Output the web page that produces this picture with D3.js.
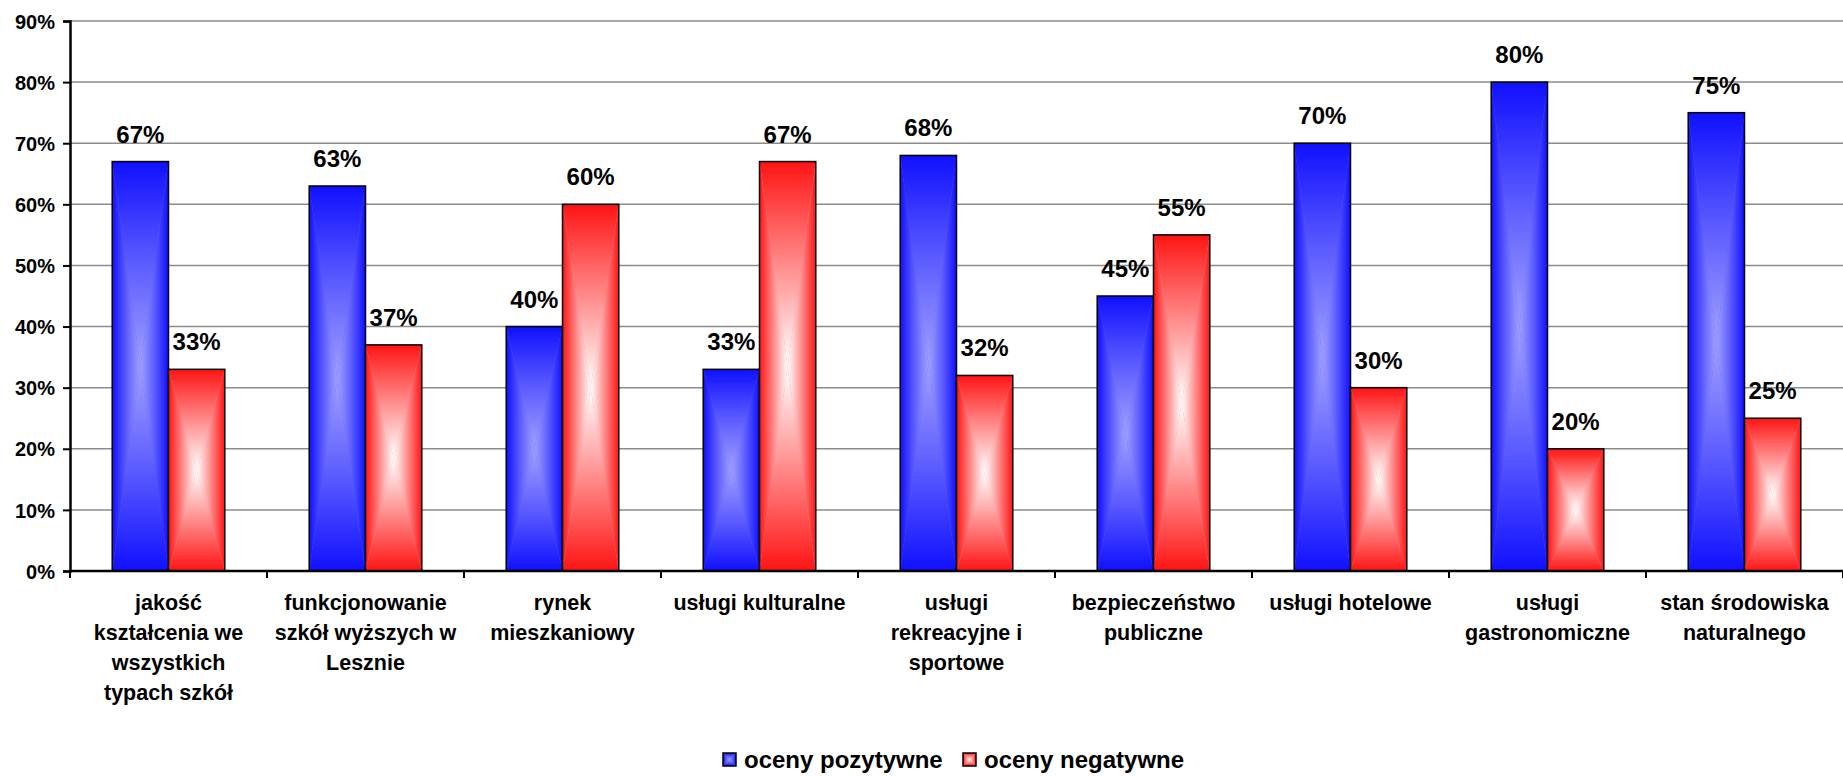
<!DOCTYPE html>
<html>
<head>
<meta charset="utf-8">
<script src="https://cdn.jsdelivr.net/npm/d3@7"></script>
<style>
  html, body { margin: 0; padding: 0; background: #fff; }
  svg { display: block; }
  text { font-family: "Liberation Sans", Arial, sans-serif; font-weight: bold; fill: #000; }
</style>
</head>
<body>
<svg id="chart" width="1843" height="776"></svg>
<script>
// ---- data ----
const categories = [
  ["jakość", "kształcenia we", "wszystkich", "typach szkół"],
  ["funkcjonowanie", "szkół wyższych w", "Lesznie"],
  ["rynek", "mieszkaniowy"],
  ["usługi kulturalne"],
  ["usługi", "rekreacyjne i", "sportowe"],
  ["bezpieczeństwo", "publiczne"],
  ["usługi hotelowe"],
  ["usługi", "gastronomiczne"],
  ["stan środowiska", "naturalnego"]
];
const seriesNames = ["oceny pozytywne", "oceny negatywne"];
const positive = [67, 63, 40, 33, 68, 45, 70, 80, 75];
const negative = [33, 37, 60, 67, 32, 55, 30, 20, 25];
const yTicks = [0, 10, 20, 30, 40, 50, 60, 70, 80, 90];

// ---- layout ----
const svg = d3.select("#chart");
const plotLeft = 70, plotRight = 1843, plotTop = 21, plotBottom = 571;

const x0 = d3.scaleBand().domain(d3.range(categories.length)).range([plotLeft, plotRight]).paddingInner(0).paddingOuter(0);
const x1 = d3.scaleBand().domain([0, 1]).range([0, x0.bandwidth()]).paddingInner(0).paddingOuter(0.75);
const y = d3.scaleLinear().domain([0, 90]).range([plotBottom, plotTop]);

// ---- gradients: rectangular "from centre" fill built of four triangles ----
const defs = svg.append("defs");
const palette = [
  { id: "blue", edge: "#1010ff", mid: "#5c5cff", center: "#a0a0ff" },
  { id: "red", edge: "#ff1414", mid: "#ff8a8a", center: "#ffffff" }
];
const dirs = {
  top:    { x1: 0, y1: 0, x2: 0, y2: 1 },
  bottom: { x1: 0, y1: 1, x2: 0, y2: 0 },
  left:   { x1: 0, y1: 0, x2: 1, y2: 0 },
  right:  { x1: 1, y1: 0, x2: 0, y2: 0 }
};
palette.forEach(p => {
  Object.entries(dirs).forEach(([k, d]) => {
    const g = defs.append("linearGradient").attr("id", `${p.id}-${k}`)
      .attr("x1", d.x1).attr("y1", d.y1).attr("x2", d.x2).attr("y2", d.y2);
    g.append("stop").attr("offset", 0).attr("stop-color", p.edge);
    g.append("stop").attr("offset", 0.5).attr("stop-color", p.mid);
    g.append("stop").attr("offset", 1).attr("stop-color", p.center);
  });
});

function gradientBar(g, bx, by, bw, bh, p) {
  const cx = bx + bw / 2, cy = by + bh / 2;
  const r = bx + bw, b = by + bh;
  g.append("rect").attr("x", bx).attr("y", by).attr("width", bw).attr("height", bh).attr("fill", p.mid);
  const tri = [
    ["top",    [[bx, by], [r, by], [cx, cy]]],
    ["bottom", [[bx, b], [r, b], [cx, cy]]],
    ["left",   [[bx, by], [bx, b], [cx, cy]]],
    ["right",  [[r, by], [r, b], [cx, cy]]]
  ];
  tri.forEach(([k, pts]) => {
    g.append("path").attr("d", d3.line()(pts) + "Z").attr("fill", `url(#${p.id}-${k})`);
  });
  g.append("rect").attr("x", bx).attr("y", by).attr("width", bw).attr("height", bh)
    .attr("fill", "none").attr("stroke", "#000").attr("stroke-width", 1.5);
}

// ---- gridlines ----
svg.append("g").selectAll("line").data(yTicks.filter(d => d > 0)).join("line")
  .attr("x1", plotLeft).attr("x2", plotRight)
  .attr("y1", d => y(d)).attr("y2", d => y(d))
  .attr("stroke", "#8c8c8c").attr("stroke-width", 1.5);

// ---- bars ----
const rows = categories.map((c, i) => ({ i, vals: [positive[i], negative[i]] }));
const groups = svg.append("g").selectAll("g").data(rows).join("g")
  .attr("transform", d => `translate(${x0(d.i)},0)`);

groups.each(function (d) {
  const g = d3.select(this);
  d.vals.forEach((v, s) => {
    const bx = x1(s), bw = x1.bandwidth(), by = y(v), bh = y(0) - y(v);
    gradientBar(g, bx, by, bw, bh, palette[s]);
    g.append("text").attr("x", bx + bw / 2).attr("y", by - 19)
      .attr("text-anchor", "middle").style("font-size", "24px")
      .text(v + "%");
  });
});

// ---- y axis ----
const yAxis = d3.axisLeft(y).tickValues(yTicks).tickFormat(d => d + "%").tickSize(7).tickPadding(8);
const yg = svg.append("g").attr("transform", `translate(${plotLeft},0)`).call(yAxis);
yg.select(".domain").attr("stroke", "#000").attr("stroke-width", 2.5);
yg.selectAll(".tick line").attr("stroke", "#000").attr("stroke-width", 2);
yg.selectAll(".tick text").style("font-size", "20px").style("font-family", "'Liberation Sans', Arial, sans-serif").style("font-weight", "bold").attr("dy", "0.36em");

// ---- x axis ----
svg.append("line").attr("x1", plotLeft).attr("x2", plotRight).attr("y1", plotBottom).attr("y2", plotBottom)
  .attr("stroke", "#000").attr("stroke-width", 2.5);
svg.append("g").selectAll("line").data(d3.range(categories.length + 1)).join("line")
  .attr("x1", d => plotLeft + d * x0.step()).attr("x2", d => plotLeft + d * x0.step())
  .attr("y1", plotBottom).attr("y2", plotBottom + 7)
  .attr("stroke", "#000").attr("stroke-width", 2);

const labels = svg.append("g").selectAll("text").data(categories).join("text")
  .attr("x", (d, i) => x0(i) + x0.bandwidth() / 2)
  .attr("text-anchor", "middle").style("font-size", "21.5px");
labels.each(function (lines) {
  const t = d3.select(this);
  lines.forEach((ln, k) => {
    t.append("tspan").attr("x", t.attr("x")).attr("y", 610 + k * 30).text(ln);
  });
});

// ---- legend ----
const legend = svg.append("g");
const legendItems = [{ name: seriesNames[0], p: palette[0], x: 723 }, { name: seriesNames[1], p: palette[1], x: 963 }];
legendItems.forEach(it => {
  gradientBar(legend, it.x, 753, 13, 13, it.p);
  legend.append("text").attr("x", it.x + 21).attr("y", 768).style("font-size", "24px").text(it.name);
});
</script>
</body>
</html>
